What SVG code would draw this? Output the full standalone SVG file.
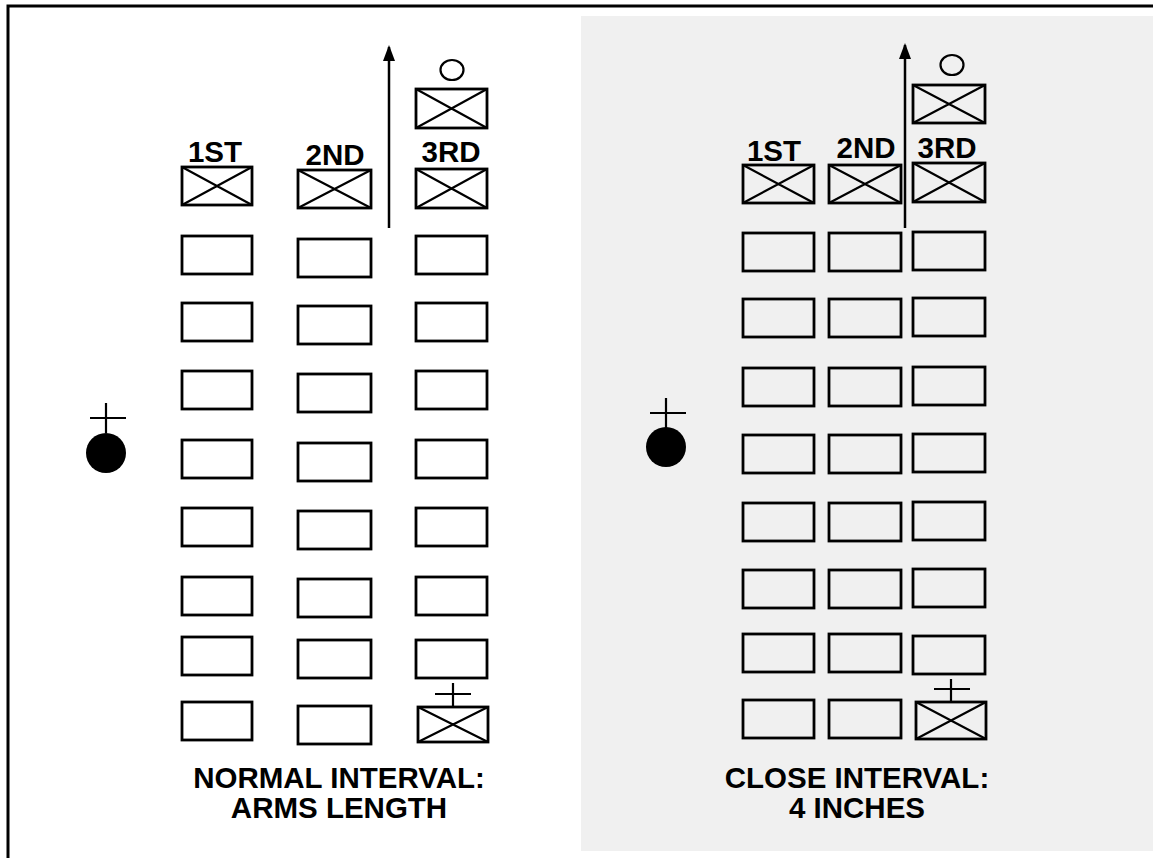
<svg xmlns="http://www.w3.org/2000/svg" width="1153" height="858" viewBox="0 0 1153 858">
<style>
.b{fill:none;stroke:#000;stroke-width:2.8}
.x{fill:none;stroke:#000;stroke-width:2.2}
.t{font-family:"Liberation Sans",Arial,sans-serif;font-weight:bold;fill:#000;text-anchor:middle}
.h{font-size:29.5px}
.c{font-size:29.5px}
</style>
<defs>
<marker id="ah" markerWidth="16" markerHeight="12" refX="14" refY="6" orient="auto" markerUnits="userSpaceOnUse" viewBox="0 0 16 12">
<path d="M0,0 L16,6 L0,12 Z" fill="#000"/>
</marker>
</defs>
<rect x="0" y="0" width="1153" height="858" fill="#fff"/>
<rect x="581" y="16" width="572" height="835" fill="#f0f0f0"/>
<path d="M8,858 V6 H1153" fill="none" stroke="#000" stroke-width="3"/>

<g id="left-formation">
<g id="l-leader"><circle cx="106" cy="453" r="20" fill="#000"/><path d="M106,403 V433 M90,418 H126" class="x"/></g>
<g id="l-guide"><ellipse cx="452" cy="70" rx="11.5" ry="10" class="x"/><rect x="416" y="89" width="71" height="39" class="b"/><path d="M416,89 L487,128 M487,89 L416,128" class="x"/></g>
<g id="l-h1"><rect x="182" y="167" width="70" height="38" class="b"/><path d="M182,167 L252,205 M252,167 L182,205" class="x"/></g>
<g id="l-h2"><rect x="298" y="170" width="73" height="38" class="b"/><path d="M298,170 L371,208 M371,170 L298,208" class="x"/></g>
<g id="l-h3"><rect x="416" y="169" width="71" height="39" class="b"/><path d="M416,169 L487,208 M487,169 L416,208" class="x"/></g>
<text class="t h" x="215" y="162">1ST</text>
<text class="t h" x="335" y="165">2ND</text>
<text class="t h" x="451" y="162">3RD</text>
<g id="l-col1">
<rect x="182" y="236" width="70" height="38" class="b"/>
<rect x="182" y="303" width="70" height="38" class="b"/>
<rect x="182" y="371" width="70" height="38" class="b"/>
<rect x="182" y="440" width="70" height="38" class="b"/>
<rect x="182" y="508" width="70" height="38" class="b"/>
<rect x="182" y="577" width="70" height="38" class="b"/>
<rect x="182" y="637" width="70" height="38" class="b"/>
<rect x="182" y="702" width="70" height="38" class="b"/>
</g>
<g id="l-col2">
<rect x="298" y="239" width="73" height="38" class="b"/>
<rect x="298" y="306" width="73" height="38" class="b"/>
<rect x="298" y="374" width="73" height="38" class="b"/>
<rect x="298" y="443" width="73" height="38" class="b"/>
<rect x="298" y="511" width="73" height="38" class="b"/>
<rect x="298" y="579" width="73" height="38" class="b"/>
<rect x="298" y="640" width="73" height="38" class="b"/>
<rect x="298" y="706" width="73" height="38" class="b"/>
</g>
<g id="l-col3">
<rect x="416" y="236" width="71" height="38" class="b"/>
<rect x="416" y="303" width="71" height="38" class="b"/>
<rect x="416" y="371" width="71" height="38" class="b"/>
<rect x="416" y="440" width="71" height="38" class="b"/>
<rect x="416" y="508" width="71" height="38" class="b"/>
<rect x="416" y="577" width="71" height="38" class="b"/>
<rect x="416" y="640" width="71" height="38" class="b"/>
</g>
<g id="l-last"><path d="M453,683 V707 M435,694 H471" class="x"/><rect x="418" y="707" width="70" height="35" class="b"/><path d="M418,707 L488,742 M488,707 L418,742" class="x"/></g>
<text class="t c" x="339" y="788">NORMAL INTERVAL:</text>
<text class="t c" x="339" y="818">ARMS LENGTH</text>
</g>

<g id="right-formation">
<g id="r-leader"><circle cx="666" cy="447" r="20" fill="#000"/><path d="M666,398 V428 M650,413 H686" class="x"/></g>
<g id="r-guide"><ellipse cx="952" cy="65" rx="11.5" ry="10" class="x"/><rect x="913" y="85" width="72" height="38" class="b"/><path d="M913,85 L985,123 M985,85 L913,123" class="x"/></g>
<g id="r-h1"><rect x="743" y="165" width="71" height="38" class="b"/><path d="M743,165 L814,203 M814,165 L743,203" class="x"/></g>
<g id="r-h2"><rect x="829" y="165" width="72" height="38" class="b"/><path d="M829,165 L901,203 M901,165 L829,203" class="x"/></g>
<g id="r-h3"><rect x="913" y="163" width="72" height="39" class="b"/><path d="M913,163 L985,202 M985,163 L913,202" class="x"/></g>
<text class="t h" x="774" y="161">1ST</text>
<text class="t h" x="866" y="158">2ND</text>
<text class="t h" x="947" y="158">3RD</text>
<g id="r-col1">
<rect x="743" y="233" width="71" height="38" class="b"/>
<rect x="743" y="299" width="71" height="38" class="b"/>
<rect x="743" y="368" width="71" height="38" class="b"/>
<rect x="743" y="435" width="71" height="38" class="b"/>
<rect x="743" y="503" width="71" height="38" class="b"/>
<rect x="743" y="570" width="71" height="38" class="b"/>
<rect x="743" y="634" width="71" height="38" class="b"/>
<rect x="743" y="700" width="71" height="38" class="b"/>
</g>
<g id="r-col2">
<rect x="829" y="233" width="72" height="38" class="b"/>
<rect x="829" y="299" width="72" height="38" class="b"/>
<rect x="829" y="368" width="72" height="38" class="b"/>
<rect x="829" y="435" width="72" height="38" class="b"/>
<rect x="829" y="503" width="72" height="38" class="b"/>
<rect x="829" y="570" width="72" height="38" class="b"/>
<rect x="829" y="634" width="72" height="38" class="b"/>
<rect x="829" y="700" width="72" height="38" class="b"/>
</g>
<g id="r-col3">
<rect x="913" y="232" width="72" height="38" class="b"/>
<rect x="913" y="298" width="72" height="38" class="b"/>
<rect x="913" y="367" width="72" height="38" class="b"/>
<rect x="913" y="434" width="72" height="38" class="b"/>
<rect x="913" y="502" width="72" height="38" class="b"/>
<rect x="913" y="569" width="72" height="38" class="b"/>
<rect x="913" y="636" width="72" height="38" class="b"/>
</g>
<g id="r-last"><path d="M951,679 V702 M934,689 H970" class="x"/><rect x="916" y="702" width="70" height="37" class="b"/><path d="M916,702 L986,739 M986,702 L916,739" class="x"/></g>
<text class="t c" x="857" y="788">CLOSE INTERVAL:</text>
<text class="t c" x="857" y="818">4 INCHES</text>
</g>

<g id="connectors">
<line x1="389" y1="228" x2="389" y2="47" stroke="#000" stroke-width="2.5" marker-end="url(#ah)"/>
<line x1="905" y1="228" x2="905" y2="45" stroke="#000" stroke-width="2.5" marker-end="url(#ah)"/>
</g>
</svg>
